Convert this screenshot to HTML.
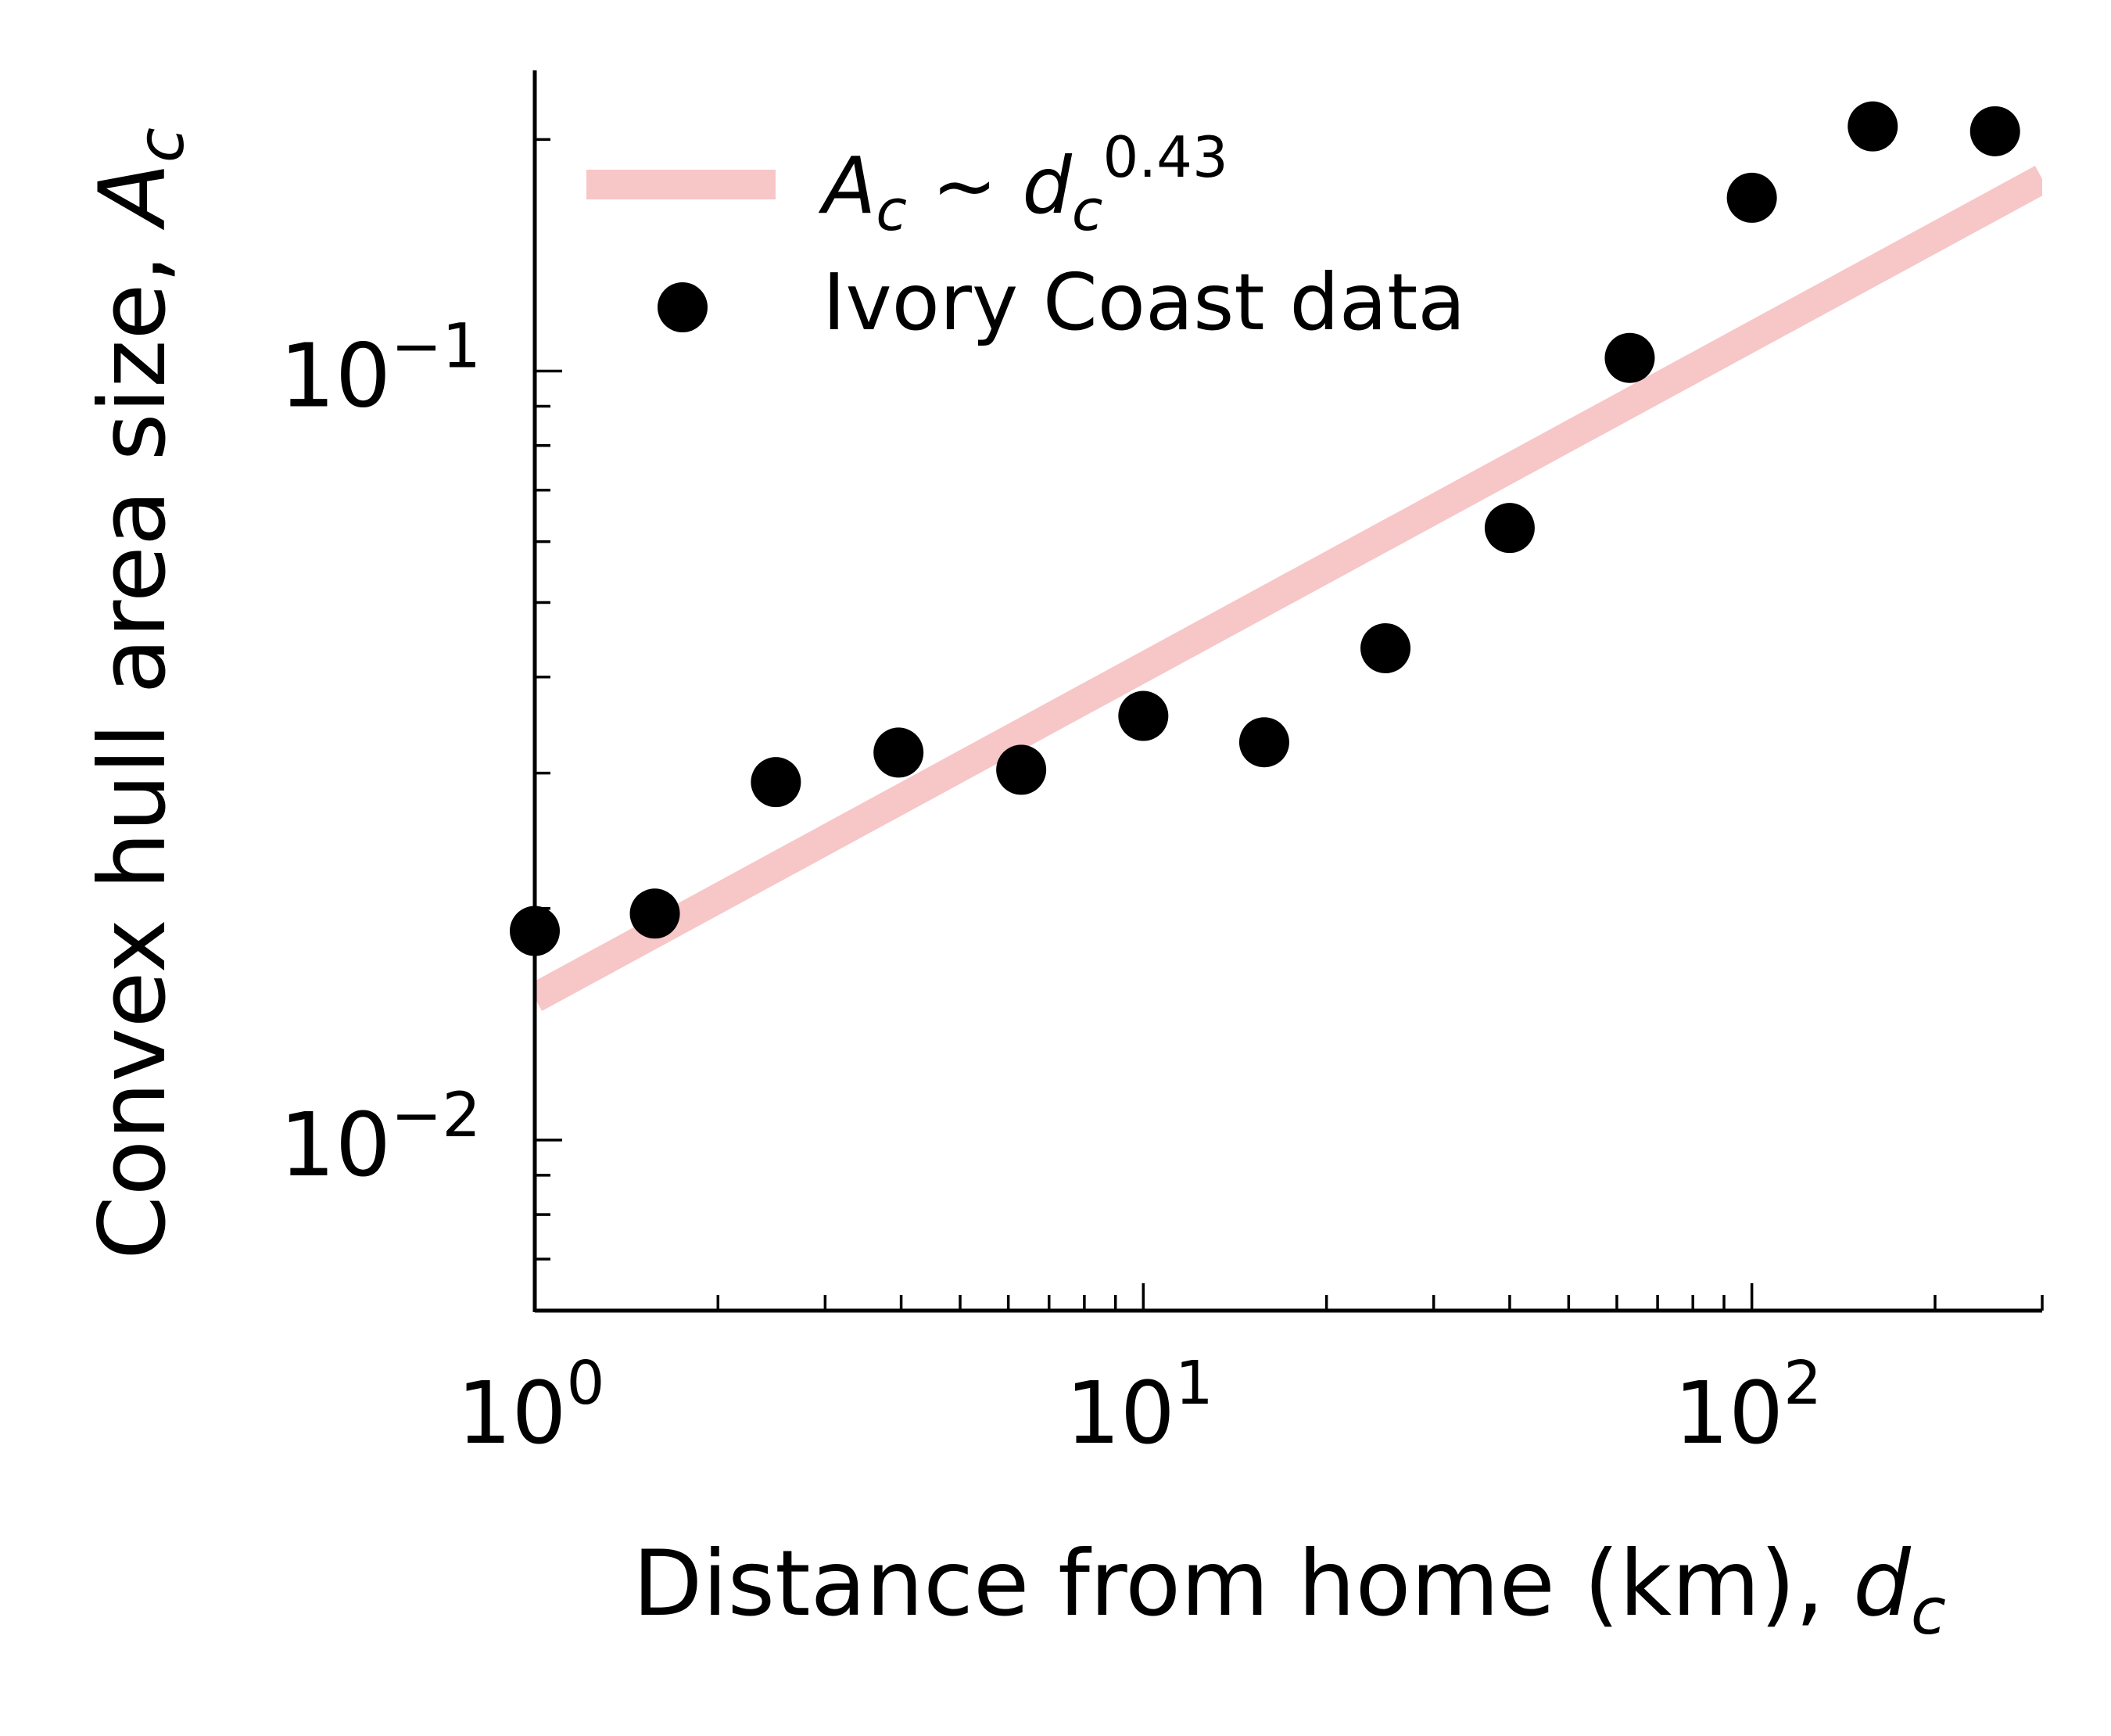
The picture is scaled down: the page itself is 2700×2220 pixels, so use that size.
<!DOCTYPE html>
<html><head><meta charset="utf-8"><style>
html,body{margin:0;padding:0;background:#fff}
svg{display:block}
text{font-family:"DejaVu Sans","Liberation Sans",sans-serif;fill:#000}
</style></head><body>
<svg id="chart" width="2700" height="2220" viewBox="0 0 2700 2220" xmlns="http://www.w3.org/2000/svg">
<g id="plot"></g>
<g id="axes"></g>
<g>
  <rect x="750" y="217" width="242" height="38" fill="#f7c6c7"/>
  <text x="1052" y="272" font-size="100"><tspan font-style="italic">A</tspan><tspan font-style="italic" font-size="72" dy="22">c</tspan><tspan dy="-22"> ~ </tspan><tspan font-style="italic">d</tspan><tspan font-style="italic" font-size="72" dy="22">c</tspan><tspan font-size="72" dy="-68">0.43</tspan></text>
  <circle cx="873" cy="393" r="32" fill="#000"/>
  <text x="1052" y="421" font-size="100">Ivory Coast data</text>
</g>
<text x="1649" y="2065" font-size="116" text-anchor="middle">Distance from home (km), <tspan font-style="italic">d</tspan><tspan font-style="italic" font-size="82" dy="24">c</tspan></text>
<text transform="translate(210,887) rotate(-90)" font-size="117" text-anchor="middle">Convex hull area size, <tspan font-style="italic">A</tspan><tspan font-style="italic" font-size="82" dy="24">c</tspan></text>
</svg>
<script>
const distances = [1, 1.575, 2.49, 3.96, 6.3, 10, 15.8, 25, 40, 63, 100, 158, 251];
const areas = [0.0187, 0.0197, 0.0292, 0.0319, 0.0303, 0.0356, 0.0329, 0.0436, 0.0625, 0.104, 0.168, 0.208, 0.205];
const fitCoef = [0.0153];
const fitExp = [0.43];
const xTickExps = [0, 1, 2];
const yTickExps = [-2, -1];

const NS = "http://www.w3.org/2000/svg";
const X0 = 684, X1 = 2612, Y0 = 1676, Y1 = 90;
const xmin = 1, xmax = 300, ymin = 0.006, ymax = 0.246;
const xs = v => X0 + (Math.log10(v) - Math.log10(xmin)) / (Math.log10(xmax) - Math.log10(xmin)) * (X1 - X0);
const ys = v => Y0 - (Math.log10(v) - Math.log10(ymin)) / (Math.log10(ymax) - Math.log10(ymin)) * (Y0 - Y1);
function mk(tag, attrs, parent) { const e = document.createElementNS(NS, tag); for (const k in attrs) e.setAttribute(k, attrs[k]); parent.appendChild(e); return e; }
const plot = document.getElementById('plot'), axes = document.getElementById('axes');

const clip = mk('clipPath', {id: 'cp'}, plot);
mk('rect', {x: X0, y: Y1 - 60, width: X1 - X0, height: Y0 - Y1 + 60}, clip);
const fl = mk('line', {x1: xs(xmin), y1: ys(fitCoef[0] * Math.pow(xmin, fitExp[0])), x2: xs(xmax), y2: ys(fitCoef[0] * Math.pow(xmax, fitExp[0])), stroke: '#f7c6c7', 'stroke-width': 38, 'clip-path': 'url(#cp)'}, plot);



distances.forEach((d, i) => {
  const c = mk('circle', {cx: xs(d), cy: ys(areas[i]), r: 32, fill: '#000'}, plot);
  
  
});

const sx = mk('line', {x1: X0, y1: Y0, x2: X1, y2: Y0, stroke: '#000', 'stroke-width': 5}, axes);


const sy = mk('line', {x1: X0, y1: Y0 + 2, x2: X0, y2: Y1, stroke: '#000', 'stroke-width': 5}, axes);



for (let e = 0; e <= 2; e++) for (let m = 1; m <= 9; m++) {
  const v = m * Math.pow(10, e); if (v > xmax + 1e-9) continue;
  const len = m === 1 ? 35 : 20;
  const t = mk('line', {x1: xs(v), y1: Y0, x2: xs(v), y2: Y0 - len, stroke: '#000', 'stroke-width': 3.5}, axes);
  
  
}
xTickExps.forEach(e => {
  const t = mk('text', {x: xs(Math.pow(10, e)) - 5, y: 1845, 'font-size': 110, 'text-anchor': 'middle'}, axes);
  
  
  t.innerHTML = '10<tspan font-size="77" dy="-50">' + e + '</tspan>';
});
for (let e = -3; e <= -1; e++) for (let m = 1; m <= 9; m++) {
  const v = m * Math.pow(10, e); if (v < ymin - 1e-9 || v > ymax) continue;
  const len = m === 1 ? 35 : 20;
  const t = mk('line', {x1: X0, y1: ys(v), x2: X0 + len, y2: ys(v), stroke: '#000', 'stroke-width': 3.5}, axes);
  
  
}
yTickExps.forEach(e => {
  const t = mk('text', {x: 615, y: ys(Math.pow(10, e)) + 45, 'font-size': 112, 'text-anchor': 'end'}, axes);
  
  
  t.innerHTML = '10<tspan font-size="78" dy="-50">\u2212' + Math.abs(e) + '</tspan>';
});
</script>
</body></html>
